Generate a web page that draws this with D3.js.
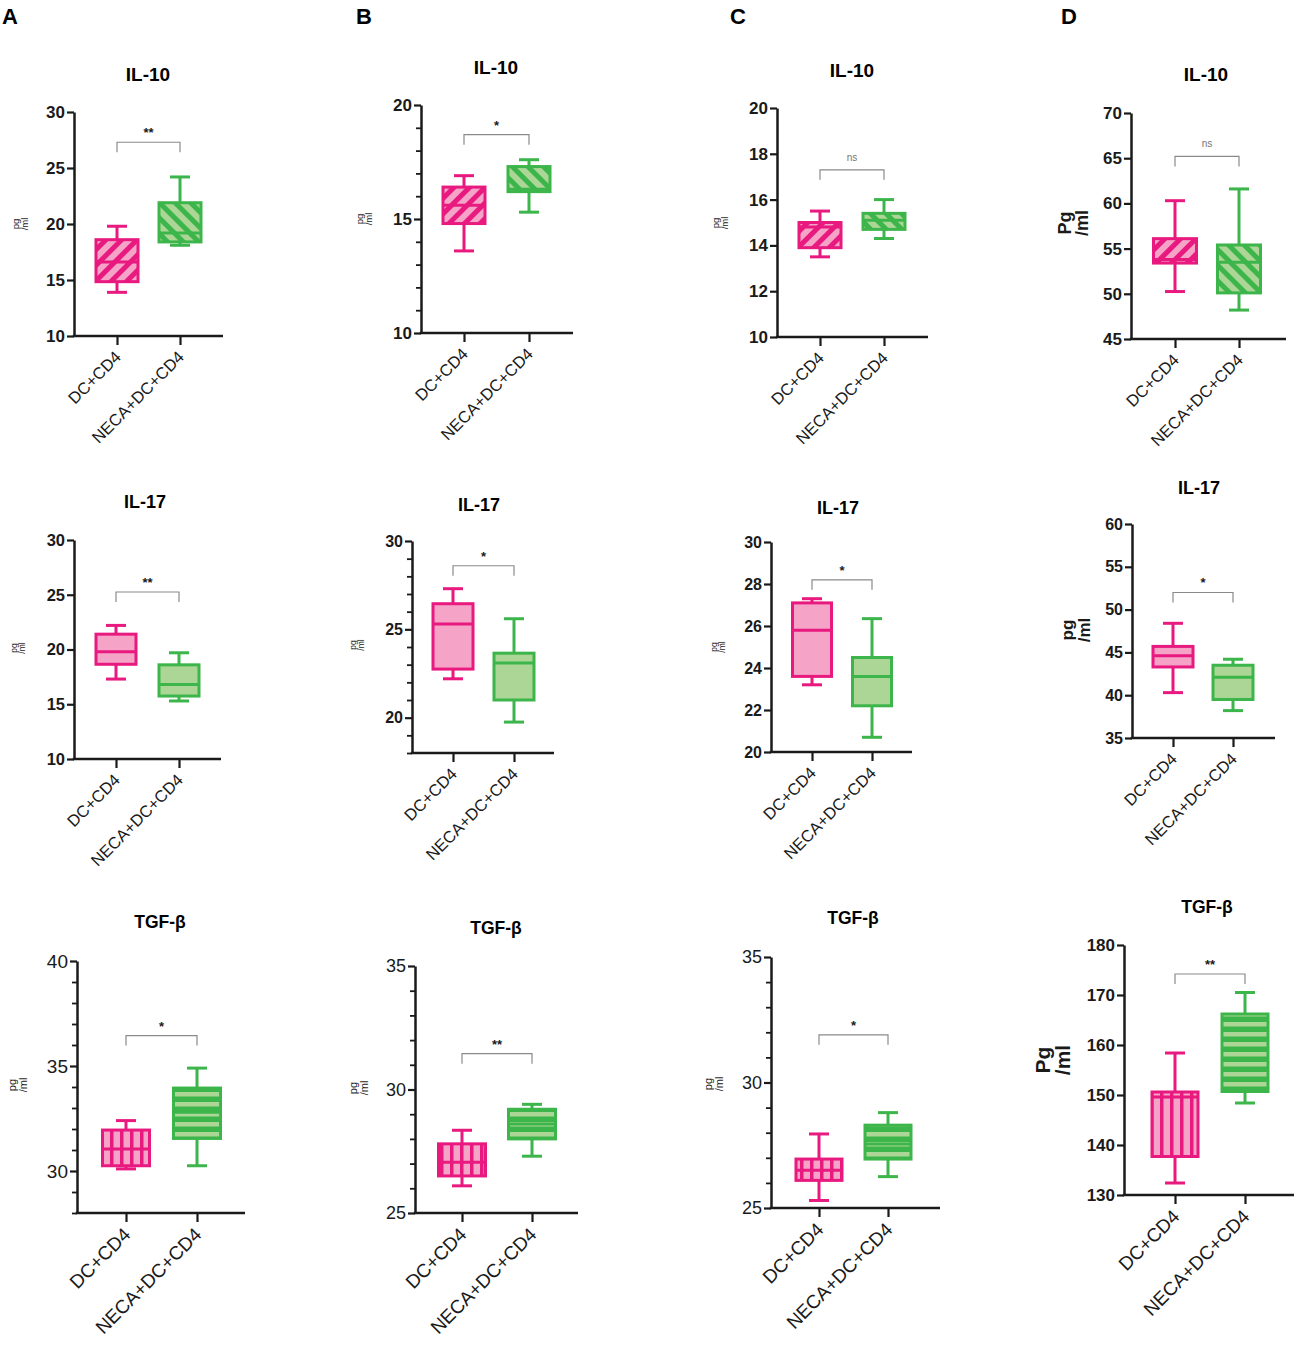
<!DOCTYPE html>
<html>
<head>
<meta charset="utf-8">
<script src="https://cdn.jsdelivr.net/npm/d3@7"></script>
<style>
body { margin: 0; background: #fff; }
text { font-family: "Liberation Sans", Arial, sans-serif; }
</style>
</head>
<body>
<svg id="fig" width="1299" height="1347"></svg>
<script>
var groups = ["DC+CD4", "NECA+DC+CD4"];
var panelLetters = ["A", "B", "C", "D"];
var cytokines = ["IL-10", "IL-17", "TGF-β"];

// [min, q1, median, q3, max], panels row by row (A..D)
var dcStats = [
    [13.9, 14.85, 16.6, 18.6, 19.8],
    [13.6, 14.8, 15.6, 16.4, 16.9],
    [13.5, 13.9, 14.8, 15.0, 15.5],
    [50.25, 53.4, 53.8, 56.1, 60.3],
    [17.3, 18.65, 19.8, 21.4, 22.2],
    [22.2, 22.75, 25.3, 26.45, 27.3],
    [23.2, 23.6, 25.8, 27.1, 27.3],
    [40.3, 43.3, 44.6, 45.7, 48.4],
    [30.1, 30.25, 31.05, 31.95, 32.4],
    [26.1, 26.5, 27.05, 27.8, 28.35],
    [25.3, 26.1, 26.5, 26.95, 27.95],
    [132.4, 137.7, 149.6, 150.6, 158.4]
];
var necaStats = [
    [18.1, 18.4, 19.2, 21.9, 24.2],
    [15.3, 16.2, 16.3, 17.3, 17.6],
    [14.3, 14.7, 15.1, 15.4, 16.0],
    [48.2, 50.1, 53.5, 55.4, 61.6],
    [15.3, 15.75, 16.8, 18.6, 19.7],
    [19.75, 21.0, 23.1, 23.65, 25.6],
    [20.7, 22.2, 23.6, 24.5, 26.35],
    [38.2, 39.5, 42.1, 43.5, 44.2],
    [30.25, 31.55, 32.8, 33.95, 34.9],
    [27.3, 28.0, 28.6, 29.2, 29.4],
    [26.25, 26.95, 27.55, 28.3, 28.8],
    [148.4, 150.7, 157.1, 166.2, 170.5]
];
var sigText = ["**", "*", "ns", "ns", "**", "*", "*", "*", "*", "**", "*", "**"];
var sigValue = [27.3, 18.7, 17.3, 65.2, 25.25, 28.6, 28.2, 52.0, 36.45, 31.45, 31.9, 174.2];
var yDomains = [[10, 30], [10, 20], [10, 20], [45, 70],
                [10, 30], [18, 30], [20, 30], [35, 60],
                [28, 40], [25, 35], [25, 35], [130, 180]];
var yMajorStep = [5, 5, 2, 5, 5, 5, 2, 5, 5, 5, 5, 10];
var yMinorStep = [0, 1, 0, 0, 0, 1, 0, 0, 1, 1, 1, 0];
var yUnitTop = ["pg", "pg", "pg", "Pg", "pg", "pg", "pg", "pg", "pg", "pg", "pg", "Pg"];
var yUnitBottom = "/ml";

// frame of each panel on the page (tf/tb = tick label size/bold)
var layout = [
    {ax: 74, xEnd: 223, yTop: 112, yBot: 336, t1: 117, t2: 180, bw: 42, tx: 148, ty: 74, lx: 20, ly: 224, ls: 9.5, lb: false, tf: 17, tb: true},
    {ax: 421, xEnd: 573, yTop: 105, yBot: 333, t1: 464, t2: 529, bw: 42, tx: 496, ty: 67, lx: 364, ly: 219, ls: 9.5, lb: false, tf: 17, tb: true},
    {ax: 777, xEnd: 928, yTop: 108, yBot: 337, t1: 820, t2: 884, bw: 42, tx: 852, ty: 70, lx: 720, ly: 223, ls: 9.5, lb: false, tf: 17, tb: true},
    {ax: 1131, xEnd: 1286, yTop: 113, yBot: 339, t1: 1175, t2: 1239, bw: 43, tx: 1206, ty: 74, lx: 1074, ly: 223, ls: 18, lb: true, tf: 17, tb: true},
    {ax: 74, xEnd: 221, yTop: 540, yBot: 759, t1: 116, t2: 179, bw: 40, tx: 145, ty: 502, lx: 18, ly: 648, ls: 8.5, lb: false, tf: 16.5, tb: true},
    {ax: 412, xEnd: 554, yTop: 541, yBot: 753, t1: 453, t2: 514, bw: 40, tx: 479, ty: 505, lx: 357, ly: 645, ls: 8.5, lb: false, tf: 16, tb: true},
    {ax: 771, xEnd: 912, yTop: 542, yBot: 752, t1: 812, t2: 872, bw: 39, tx: 838, ty: 508, lx: 718, ly: 647, ls: 8.5, lb: false, tf: 16, tb: true},
    {ax: 1132, xEnd: 1275, yTop: 524, yBot: 738, t1: 1173, t2: 1233, bw: 40, tx: 1199, ty: 488, lx: 1076, ly: 630, ls: 17, lb: true, tf: 16, tb: true},
    {ax: 77, xEnd: 245, yTop: 961, yBot: 1213, t1: 126, t2: 197, bw: 47, tx: 160, ty: 922, lx: 18, ly: 1085, ls: 11, lb: false, tf: 19, tb: false},
    {ax: 415, xEnd: 578, yTop: 966, yBot: 1213, t1: 462, t2: 532, bw: 47, tx: 496, ty: 928, lx: 359, ly: 1088, ls: 11, lb: false, tf: 18, tb: false},
    {ax: 771, xEnd: 940, yTop: 957, yBot: 1208, t1: 819, t2: 888, bw: 46, tx: 853, ty: 918, lx: 714, ly: 1084, ls: 11, lb: false, tf: 18, tb: false},
    {ax: 1124, xEnd: 1294, yTop: 945, yBot: 1195, t1: 1175, t2: 1245, bw: 46, tx: 1207, ty: 907, lx: 1053, ly: 1060, ls: 21, lb: true, tf: 17, tb: true}
];
var letterX = [2, 356, 730, 1061];
var rowFill = ["hatch", "solid", "stripes"];
var rowLabelFont = [16.5, 16.5, 19];
var rowTitleFont = [19, 18, 17.5];

var pinkDark = "#e8197f", pinkLight = "#f5a3c7";
var greenDark = "#3cb54a", greenLight = "#acd695";
var ink = "#1a1a1a";

var svg = d3.select("#fig");
var defs = svg.append("defs");

function addPattern(id, w, h, rot, bg, fg, fx, fy, fw, fh) {
    var p = defs.append("pattern")
        .attr("id", id)
        .attr("patternUnits", "userSpaceOnUse")
        .attr("width", w).attr("height", h);
    if (rot) p.attr("patternTransform", "rotate(" + rot + ")");
    p.append("rect").attr("width", w).attr("height", h).attr("fill", bg);
    p.append("rect").attr("x", fx).attr("y", fy).attr("width", fw).attr("height", fh).attr("fill", fg);
}
addPattern("hatchPink", 11, 11, 45, pinkLight, pinkDark, 0, 0, 5, 11);
addPattern("hatchGreen", 11, 11, -45, greenLight, greenDark, 0, 0, 5, 11);
addPattern("vertPink", 10, 10, 0, pinkLight, pinkDark, 0, 0, 3.5, 10);
addPattern("horizGreen", 10, 10, 0, greenDark, greenLight, 0, 2, 10, 4.5);

function boxFill(row, g) {
    var kind = rowFill[row];
    if (kind == "hatch") return g == 0 ? "url(#hatchPink)" : "url(#hatchGreen)";
    if (kind == "stripes") return g == 0 ? "url(#vertPink)" : "url(#horizGreen)";
    return g == 0 ? pinkLight : greenLight;
}

// panel letters
svg.selectAll(".letter").data(panelLetters).enter().append("text")
    .attr("class", "letter")
    .attr("x", function (d, i) { return letterX[i]; })
    .attr("y", 24)
    .style("font-size", "22px")
    .style("font-weight", "bold")
    .text(function (d) { return d; });

for (var i = 0; i < layout.length; i++) {
    drawPanel(i);
}

function drawPanel(i) {
    var L = layout[i];
    var row = Math.floor(i / 4);
    var g = svg.append("g").attr("class", "panel");

    var y = d3.scaleLinear().domain(yDomains[i]).range([L.yBot, L.yTop]);
    var x = d3.scalePoint().domain(groups).range([L.t1, L.t2]);

    var dmin = yDomains[i][0], dmax = yDomains[i][1];
    var step = yMajorStep[i];
    var major = d3.range(Math.ceil(dmin / step) * step, dmax + 0.001, step);

    // title
    g.append("text")
        .attr("x", L.tx).attr("y", L.ty)
        .attr("text-anchor", "middle")
        .attr("dy", "0.35em")
        .style("font-size", rowTitleFont[row] + "px")
        .style("font-weight", "bold")
        .text(cytokines[row]);

    // y axis
    var yAxis = g.append("g")
        .attr("transform", "translate(" + L.ax + ",0)")
        .call(d3.axisLeft(y).tickValues(major).tickSize(7).tickSizeOuter(0).tickPadding(2).tickFormat(d3.format("d")));
    yAxis.attr("font-size", L.tf);
    yAxis.select(".domain").attr("stroke", ink).attr("stroke-width", 2.5);
    yAxis.selectAll(".tick line").attr("stroke", ink).attr("stroke-width", 2.2);
    yAxis.selectAll(".tick text")
        .attr("fill", ink)
        .style("font-size", L.tf + "px")
        .style("font-weight", L.tb ? "bold" : "normal")
        .style("font-family", "'Liberation Sans', Arial, sans-serif");

    if (yMinorStep[i] > 0) {
        var minor = d3.range(Math.ceil(dmin), dmax + 0.001, yMinorStep[i])
            .filter(function (v) { return v % step != 0; });
        var minorAxis = g.append("g")
            .attr("transform", "translate(" + L.ax + ",0)")
            .call(d3.axisLeft(y).tickValues(minor).tickSize(5).tickSizeOuter(0).tickFormat(""));
        minorAxis.select(".domain").remove();
        minorAxis.selectAll(".tick line").attr("stroke", ink).attr("stroke-width", 1.8);
    }

    // x axis
    g.append("line")
        .attr("x1", L.ax - 1.2).attr("x2", L.xEnd)
        .attr("y1", L.yBot).attr("y2", L.yBot)
        .attr("stroke", ink).attr("stroke-width", 2.5);
    var xAxis = g.append("g")
        .attr("transform", "translate(0," + L.yBot + ")")
        .call(d3.axisBottom(x).tickSize(9).tickSizeOuter(0).tickFormat(""));
    xAxis.select(".domain").remove();
    xAxis.selectAll(".tick line").attr("stroke", ink).attr("stroke-width", 2.2);

    g.selectAll(".xlab").data(groups).enter().append("text")
        .attr("class", "xlab")
        .attr("transform", function (d) {
            return "translate(" + (x(d) + 1) + "," + (L.yBot + 18) + ") rotate(-45)";
        })
        .attr("text-anchor", "end")
        .attr("dy", "0.35em")
        .attr("fill", ink)
        .style("font-size", rowLabelFont[row] + "px")
        .text(function (d) { return d; });

    // unit label
    var unit = g.append("text")
        .attr("transform", "translate(" + L.lx + "," + L.ly + ") rotate(-90)")
        .attr("text-anchor", "middle")
        .attr("fill", ink)
        .style("font-size", L.ls + "px")
        .style("font-weight", L.lb ? "bold" : "normal");
    unit.append("tspan").attr("x", 0).attr("dy", "-0.15em").text(yUnitTop[i]);
    unit.append("tspan").attr("x", 0).attr("dy", "0.95em").text(yUnitBottom);

    // boxes
    var stats = [dcStats[i], necaStats[i]];
    var colors = [pinkDark, greenDark];
    var capW = 16;
    stats.forEach(function (s, k) {
        var cx = x(groups[k]);
        var col = colors[k];
        var bw = L.bw;
        var b = g.append("g").attr("class", "box");
        b.append("line").attr("x1", cx).attr("x2", cx).attr("y1", y(s[4])).attr("y2", y(s[3]))
            .attr("stroke", col).attr("stroke-width", 3);
        b.append("line").attr("x1", cx).attr("x2", cx).attr("y1", y(s[1])).attr("y2", y(s[0]))
            .attr("stroke", col).attr("stroke-width", 3);
        b.append("line").attr("x1", cx - capW / 2 - 2).attr("x2", cx + capW / 2 + 2).attr("y1", y(s[4])).attr("y2", y(s[4]))
            .attr("stroke", col).attr("stroke-width", 3);
        b.append("line").attr("x1", cx - capW / 2 - 2).attr("x2", cx + capW / 2 + 2).attr("y1", y(s[0])).attr("y2", y(s[0]))
            .attr("stroke", col).attr("stroke-width", 3);
        b.append("rect")
            .attr("x", cx - bw / 2).attr("y", y(s[3]))
            .attr("width", bw).attr("height", y(s[1]) - y(s[3]))
            .attr("fill", boxFill(row, k))
            .attr("stroke", col).attr("stroke-width", 3);
        b.append("line").attr("x1", cx - bw / 2).attr("x2", cx + bw / 2).attr("y1", y(s[2])).attr("y2", y(s[2]))
            .attr("stroke", col).attr("stroke-width", 3);
    });

    // significance bracket
    var by = y(sigValue[i]);
    var legs = 10;
    var x1 = x(groups[0]), x2 = x(groups[1]);
    g.append("path")
        .attr("d", "M" + x1 + "," + (by + legs) + "V" + by + "H" + x2 + "V" + (by + legs))
        .attr("fill", "none").attr("stroke", "#8a8a8a").attr("stroke-width", 1.2);
    var isNs = sigText[i] == "ns";
    g.append("text")
        .attr("x", (x1 + x2) / 2).attr("y", by - (isNs ? 9 : 5))
        .attr("text-anchor", "middle")
        .attr("fill", isNs ? "#777" : ink)
        .style("font-size", isNs ? "10px" : "13px")
        .style("font-weight", isNs ? "normal" : "bold")
        .text(sigText[i]);
}
</script>
</body>
</html>
